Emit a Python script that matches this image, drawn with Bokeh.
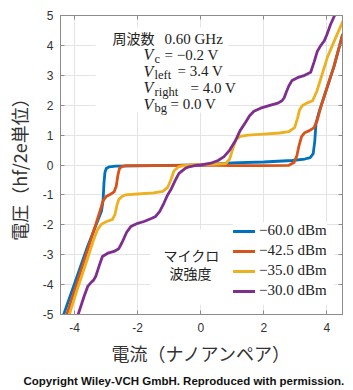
from bokeh.plotting import figure
from bokeh.models import Label, Legend, LegendItem, LinearAxis, BoxAnnotation, Range1d, Title
from bokeh.embed import file_html
from bokeh.resources import INLINE

# ---------------- data ----------------
blue_x = [-4.35, -4.0, -3.6, -3.3, -3.15, -3.1, -3.07, -3.04, -3.0, -2.9, -2.7, -2.0, -1.0, 0.0,
          1.0, 2.0, 2.9, 3.3, 3.48, 3.57, 3.62, 3.66, 3.75, 3.92, 4.23, 4.5]
blue_y = [-5.0, -3.95, -2.75, -1.95, -1.55, -1.2, -0.6, -0.25, -0.12, -0.06, -0.04, -0.03, -0.01, 0.0,
          0.07, 0.1, 0.15, 0.2, 0.25, 0.38, 0.8, 1.4, 1.75, 2.3, 3.3, 4.35]

orange_x = [-4.25, -3.9, -3.5, -3.2, -3.1, -3.0, -2.85, -2.75, -2.68, -2.63, -2.58, -2.5, -2.35, -2.0,
            -1.0, 0.0, 1.0, 2.0, 2.8, 2.96, 3.05, 3.12, 3.2, 3.3, 3.45, 3.6, 3.7, 3.8, 3.92, 4.23, 4.5]
orange_y = [-5.0, -3.85, -2.55, -1.55, -1.2, -1.05, -0.97, -0.9, -0.7, -0.35, -0.12, -0.05, -0.02, -0.02,
            -0.02, 0.0, -0.02, -0.02, -0.01, 0.08, 0.3, 0.65, 0.95, 1.08, 1.15, 1.25, 1.5, 1.9, 2.3, 3.3, 4.35]

yellow_x = [-4.17, -3.9, -3.6, -3.4, -3.28, -3.15, -3.0, -2.8, -2.72, -2.66, -2.6, -2.5, -2.4, -2.0,
            -1.5, -1.2, -1.05, -0.95, -0.85, -0.7, -0.55, -0.3, 0.0, 0.4, 0.8, 0.92, 1.02, 1.12, 1.25,
            1.5, 2.0, 2.5, 2.8, 2.98, 3.07, 3.14, 3.22, 3.35, 3.55, 3.68, 3.8, 4.02, 4.2, 4.35, 4.5]
yellow_y = [-5.0, -4.1, -3.15, -2.5, -2.17, -1.98, -1.9, -1.82, -1.65, -1.35, -1.15, -1.05, -1.0, -0.97,
            -0.93, -0.88, -0.75, -0.5, -0.2, -0.06, -0.02, 0.0, 0.01, 0.02, 0.05, 0.2, 0.55, 0.85, 0.96,
            1.0, 1.03, 1.07, 1.12, 1.25, 1.55, 1.85, 1.98, 2.06, 2.15, 2.45, 2.85, 3.6, 4.05, 4.42, 4.78]

purple_x = [-3.89, -3.7, -3.58, -3.49, -3.4, -3.33, -3.2, -3.12, -2.95, -2.75, -2.6, -2.5, -2.35, -2.22,
            -2.0, -1.8, -1.55, -1.43, -1.3, -1.17, -1.05, -0.95, -0.8, -0.69, -0.5, -0.37, -0.15, 0.0,
            0.32, 0.55, 0.74, 0.92, 1.11, 1.25, 1.43, 1.55, 1.69, 1.9, 2.22, 2.45, 2.58, 2.65, 2.72, 2.8,
            2.9, 3.07, 3.3, 3.49, 3.6, 3.7, 3.8, 3.92, 4.0, 4.12, 4.25]
purple_y = [-5.0, -4.39, -4.05, -3.94, -3.85, -3.72, -3.3, -3.06, -2.95, -2.89, -2.8, -2.6, -2.25, -2.06,
            -1.95, -1.89, -1.78, -1.72, -1.55, -1.28, -1.0, -0.83, -0.5, -0.28, -0.12, -0.06, -0.01, 0.0,
            0.06, 0.15, 0.28, 0.5, 0.83, 1.15, 1.44, 1.65, 1.8, 1.9, 2.0, 2.07, 2.15, 2.25, 2.45, 2.65,
            2.83, 2.92, 3.0, 3.1, 3.45, 3.8, 3.98, 4.15, 4.35, 4.7, 5.0]

series_labels = ["−60.0 dBm", "−42.5 dBm", "−35.0 dBm", "−30.0 dBm"]
series_colors = ["#0072BD", "#D95319", "#EDB120", "#7E2F8E"]

x_ticks = [-4, -2, 0, 2, 4]
x_tick_labels = ["-4", "-2", "0", "2", "4"]
y_ticks = [5, 4, 3, 2, 1, 0, -1, -2, -3, -4, -5]
y_tick_labels = ["5", "4", "3", "2", "1", "0", "-1", "-2", "-3", "-4", "-5"]

x_title = "電流（ナノアンペア）"
y_title = "電圧（hf/2e単位）"
credit = "Copyright Wiley-VCH GmbH. Reproduced with permission."

# ---------------- figure ----------------
FL, FB = 60, 315  # expected frame left / bottom in canvas pixels

p = figure(width=353, height=390, x_range=Range1d(-4.45, 4.5), y_range=Range1d(-5, 5),
           output_backend="svg", toolbar_location=None,
           min_border_left=60, min_border_right=11, min_border_top=15, min_border_bottom=75,
           background_fill_color="white", border_fill_color="white",
           outline_line_color="#8c8c8c", outline_line_width=1)

axis_col = "#8c8c8c"
for ax in (p.xaxis[0], p.yaxis[0]):
    ax.major_tick_in = 4
    ax.major_tick_out = 0
    ax.minor_tick_in = 0
    ax.minor_tick_out = 0
    ax.axis_line_color = axis_col
    ax.major_tick_line_color = axis_col
    ax.major_label_text_font = "Liberation Sans"
    ax.major_label_text_font_size = "12px"
    ax.major_label_text_color = "#333333"
    ax.axis_label_text_font = "Noto Sans CJK JP"
    ax.axis_label_text_font_size = "18px"
    ax.axis_label_text_font_style = "normal"
    ax.axis_label_text_color = "#333333"

p.xaxis.ticker = x_ticks
p.xaxis.major_label_overrides = {t: s for t, s in zip(x_ticks, x_tick_labels)}
p.xaxis.major_label_standoff = 8
p.xaxis.axis_label = x_title
p.xaxis.axis_label_standoff = 5
p.yaxis.ticker = y_ticks
p.yaxis.major_label_overrides = {t: s for t, s in zip(y_ticks, y_tick_labels)}
p.yaxis.major_label_standoff = 7
p.yaxis.axis_label = y_title
p.yaxis.axis_label_standoff = 8

top_ax = LinearAxis(ticker=x_ticks, major_label_overrides={t: "" for t in x_ticks},
                    major_tick_in=4, major_tick_out=0, minor_tick_in=0, minor_tick_out=0,
                    axis_line_color=axis_col, major_tick_line_color=axis_col,
                    major_label_standoff=0, major_label_text_font_size="1px")
right_ax = LinearAxis(ticker=y_ticks, major_label_overrides={t: "" for t in y_ticks},
                      major_tick_in=4, major_tick_out=0, minor_tick_in=0, minor_tick_out=0,
                      axis_line_color=axis_col, major_tick_line_color=axis_col,
                      major_label_standoff=0, major_label_text_font_size="1px")
p.add_layout(top_ax, "above")
p.add_layout(right_ax, "right")

p.add_layout(Title(text=credit, align="left", offset=-37, text_font="Liberation Sans",
                   text_font_size="11.5px", text_font_style="bold", text_color="#111111",
                   standoff=8), "below")

p.xgrid.ticker = x_ticks
p.ygrid.ticker = y_ticks
p.grid.grid_line_color = "#e4e4e4"
p.grid.grid_line_width = 1

# white boxes behind the text blocks (screen units relative to the frame)
p.add_layout(BoxAnnotation(left=95 - FL, right=228 - FL, top=FB - 28, bottom=FB - 113,
                           left_units="screen", right_units="screen", top_units="screen",
                           bottom_units="screen", fill_color="white", fill_alpha=1.0,
                           line_color=None, level="underlay"))
p.add_layout(BoxAnnotation(left=150 - FL, right=334 - FL, top=FB - 230, bottom=FB - 305,
                           left_units="screen", right_units="screen", top_units="screen",
                           bottom_units="screen", fill_color="white", fill_alpha=1.0,
                           line_color=None, level="underlay"))

renderers = []
for xs, ys, col in zip([blue_x, orange_x, yellow_x, purple_x],
                       [blue_y, orange_y, yellow_y, purple_y], series_colors):
    r = p.line(xs, ys, line_color=col, line_width=2.8, line_join="round", line_cap="round")
    renderers.append(r)

legend = Legend(items=[LegendItem(label=lab, renderers=[r]) for lab, r in zip(series_labels, renderers)],
                location=(233 - FL, FB - 300), label_text_font="Liberation Serif",
                label_text_font_size="15px", label_text_color="#222222",
                glyph_width=22, glyph_height=14, label_height=14, spacing=3,
                padding=0, margin=0, label_standoff=4, border_line_color=None,
                background_fill_color="white", background_fill_alpha=1.0)
p.add_layout(legend)


def lab(text, px, py, size, font, style="normal", align="left", baseline="middle", color="#222222"):
    p.add_layout(Label(x=px - FL, y=FB - py, x_units="screen", y_units="screen", text=text,
                       text_font=font, text_font_size=f"{size}px", text_font_style=style,
                       text_align=align, text_baseline=baseline, text_color=color))


# top-left annotation
lab("周波数", 112, 38, 14, "Noto Sans CJK JP")
lab("0.60 GHz", 164, 39, 15, "Liberation Serif")
rows = [("c", "= −0.2 V", 55, 164), ("left", "= 3.4 V", 71.5, 177),
        ("right", "= 4.0 V", 88, 190), ("bg", "= 0.0 V", 104.5, 170)]
for sub, rest, py, px_eq in rows:
    lab("V", 143, py, 16, "Liberation Serif", style="italic")
    lab(sub, 154, py + 4, 12.5, "Liberation Serif")
    lab(rest, px_eq, py, 15, "Liberation Serif")

# microwave power label
lab("マイクロ", 191, 255, 14, "Noto Sans CJK JP", align="center")
lab("波強度", 190, 273, 14, "Noto Sans CJK JP", align="center")

open("out.html", "w").write(file_html(p, INLINE))
